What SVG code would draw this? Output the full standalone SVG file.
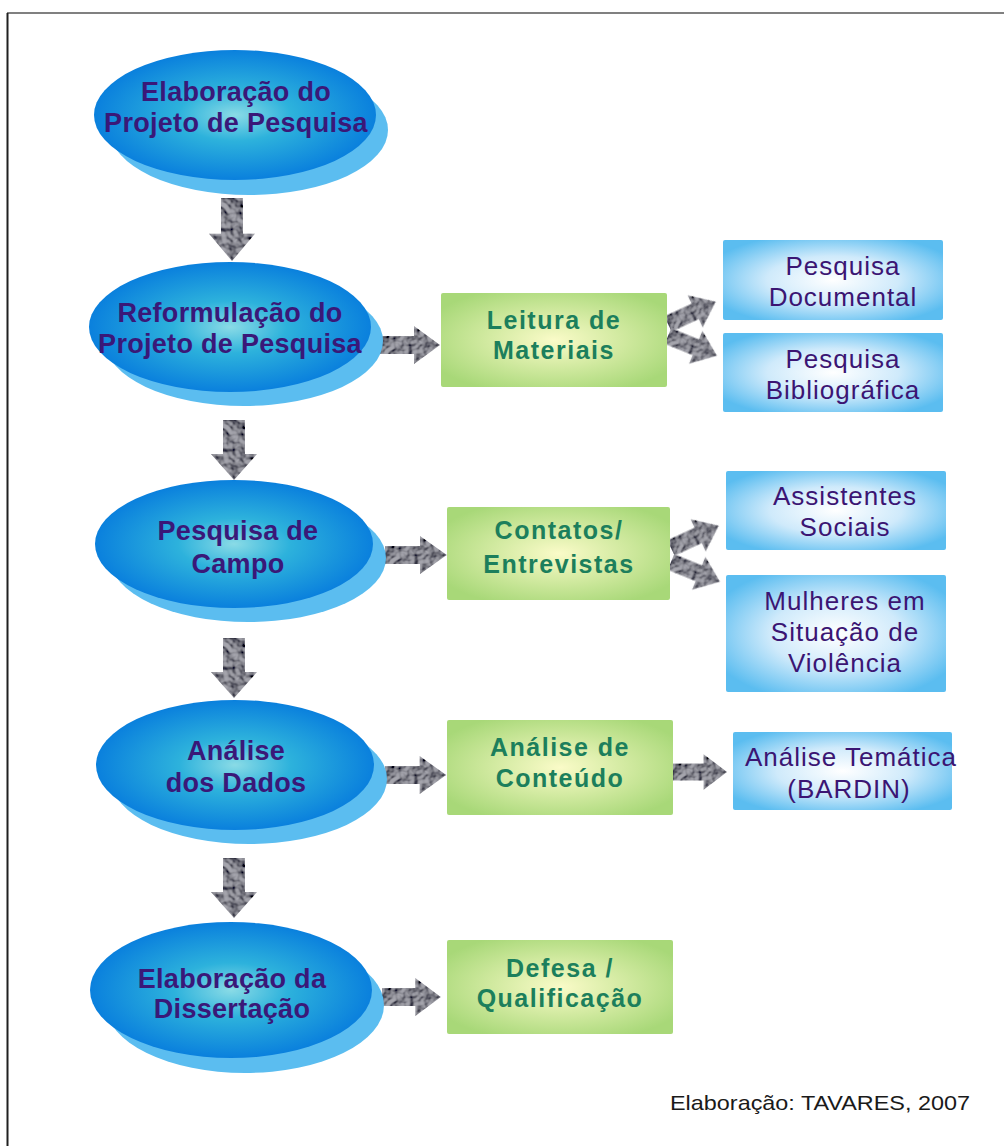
<svg xmlns="http://www.w3.org/2000/svg" width="1004" height="1146" viewBox="0 0 1004 1146">
<style>
.et{font-family:"Liberation Sans",Arial,sans-serif;font-weight:bold;font-size:27px;fill:#3a1878;text-anchor:middle;letter-spacing:0.3px}
.gt{font-family:"Liberation Sans",Arial,sans-serif;font-weight:bold;font-size:25px;fill:#1c7f5c;text-anchor:middle;letter-spacing:1.5px}
.bt{font-family:"Liberation Sans",Arial,sans-serif;font-size:26px;fill:#3b1573;text-anchor:middle;letter-spacing:1px}
.back{fill:#5bbdf0}
.front{fill:url(#gE)}
.gbox{fill:url(#gG)}
.bbox{fill:url(#gB)}
.arr{fill:#5a5a66;filter:url(#rock)}
</style>
<defs>
<radialGradient id="gE" cx="0.5" cy="0.5" r="0.5">
<stop offset="0" stop-color="#8adbe6"/>
<stop offset="0.4" stop-color="#2db2dc"/>
<stop offset="1" stop-color="#0a80dd"/>
</radialGradient>
<radialGradient id="gG" cx="0.5" cy="0.5" r="0.6">
<stop offset="0" stop-color="#fafbc8"/>
<stop offset="1" stop-color="#a8d878"/>
</radialGradient>
<radialGradient id="gB" cx="0.5" cy="0.5" r="0.6">
<stop offset="0" stop-color="#ffffff"/>
<stop offset="0.5" stop-color="#cfeafb"/>
<stop offset="1" stop-color="#5bbdf0"/>
</radialGradient>
<filter id="rock" x="-20%" y="-20%" width="140%" height="140%">
<feTurbulence type="fractalNoise" baseFrequency="0.13" numOctaves="2" seed="4" result="n"/>
<feDiffuseLighting in="n" surfaceScale="4" lighting-color="#a8a8ac" result="l">
<feDistantLight azimuth="225" elevation="45"/>
</feDiffuseLighting>
<feComponentTransfer in="l" result="c">
<feFuncR type="linear" slope="1.1" intercept="-0.05"/>
<feFuncG type="linear" slope="1.1" intercept="-0.05"/>
<feFuncB type="linear" slope="1.1" intercept="-0.03"/>
</feComponentTransfer>
<feComposite in="c" in2="SourceAlpha" operator="in"/>
</filter>
<path id="ar" d="M0,-10 L34,-10 L34,-21 L60,0 L34,21 L34,10 L0,10 Z"/>
</defs>

<g id="frame">
<line x1="7" y1="13" x2="1004" y2="13" stroke="#808080" stroke-width="2"/>
<line x1="7.5" y1="13" x2="7.5" y2="1146" stroke="#202020" stroke-width="2"/>
</g>

<g id="connectors">
<use href="#ar" class="arr" transform="translate(232,198) rotate(90) scale(1.05,1.1)"/>
<use href="#ar" class="arr" transform="translate(234,420) rotate(90) scale(1,1.1)"/>
<use href="#ar" class="arr" transform="translate(234,638) rotate(90) scale(1,1.1)"/>
<use href="#ar" class="arr" transform="translate(234,858) rotate(90) scale(1,1.1)"/>
<use href="#ar" class="arr" transform="translate(380,345) scale(1,0.9)"/>
<use href="#ar" class="arr" transform="translate(385,555) scale(1.03,0.9)"/>
<use href="#ar" class="arr" transform="translate(385,775) scale(1.02,0.9)"/>
<use href="#ar" class="arr" transform="translate(382,997) scale(0.98,0.9)"/>
<use href="#ar" class="arr" transform="translate(668,324) rotate(-25) scale(0.88,0.85)"/>
<use href="#ar" class="arr" transform="translate(668,336) rotate(22) scale(0.88,0.85)"/>
<use href="#ar" class="arr" transform="translate(671,548) rotate(-25) scale(0.88,0.85)"/>
<use href="#ar" class="arr" transform="translate(671,562) rotate(22) scale(0.88,0.85)"/>
<use href="#ar" class="arr" transform="translate(673,772) scale(0.9,0.85)"/>
</g>

<g id="n1">
<ellipse class="back" cx="249" cy="130" rx="139" ry="65"/>
<ellipse class="front" cx="235" cy="115" rx="141" ry="65"/>
<text class="et" x="236" y="101">Elaboração do</text>
<text class="et" x="236" y="132">Projeto de Pesquisa</text>
</g>
<g id="n2">
<ellipse class="back" cx="244" cy="341" rx="139" ry="65"/>
<ellipse class="front" cx="230" cy="327" rx="141" ry="65"/>
<text class="et" x="230" y="322">Reformulação do</text>
<text class="et" x="230" y="353">Projeto de Pesquisa</text>
</g>
<g id="n3">
<ellipse class="back" cx="248" cy="558" rx="138" ry="64"/>
<ellipse class="front" cx="234" cy="544" rx="139" ry="64"/>
<text class="et" x="238" y="540">Pesquisa de</text>
<text class="et" x="238" y="573">Campo</text>
</g>
<g id="n4">
<ellipse class="back" cx="249" cy="779" rx="138" ry="65"/>
<ellipse class="front" cx="235" cy="765" rx="139" ry="65"/>
<text class="et" x="236" y="760">Análise</text>
<text class="et" x="236" y="792">dos Dados</text>
</g>
<g id="n5">
<ellipse class="back" cx="245" cy="1005" rx="139" ry="68"/>
<ellipse class="front" cx="231" cy="990" rx="141" ry="68"/>
<text class="et" x="232" y="988">Elaboração da</text>
<text class="et" x="232" y="1018">Dissertação</text>
</g>

<g id="g1">
<rect class="gbox" x="441" y="293" width="226" height="94" rx="2"/>
<text class="gt" x="554" y="329">Leitura de</text>
<text class="gt" x="554" y="359">Materiais</text>
</g>
<g id="g2">
<rect class="gbox" x="447" y="507" width="223" height="93" rx="2"/>
<text class="gt" x="559" y="539">Contatos/</text>
<text class="gt" x="559" y="573">Entrevistas</text>
</g>
<g id="g3">
<rect class="gbox" x="447" y="720" width="226" height="95" rx="2"/>
<text class="gt" x="560" y="756">Análise de</text>
<text class="gt" x="560" y="787">Conteúdo</text>
</g>
<g id="g4">
<rect class="gbox" x="447" y="940" width="226" height="94" rx="2"/>
<text class="gt" x="560" y="977">Defesa /</text>
<text class="gt" x="560" y="1007">Qualificação</text>
</g>

<g id="b1">
<rect class="bbox" x="723" y="240" width="220" height="80" rx="2"/>
<text class="bt" x="843" y="275">Pesquisa</text>
<text class="bt" x="843" y="306">Documental</text>
</g>
<g id="b2">
<rect class="bbox" x="723" y="333" width="220" height="79" rx="2"/>
<text class="bt" x="843" y="368">Pesquisa</text>
<text class="bt" x="843" y="399">Bibliográfica</text>
</g>
<g id="b3">
<rect class="bbox" x="726" y="471" width="220" height="79" rx="2"/>
<text class="bt" x="845" y="505">Assistentes</text>
<text class="bt" x="845" y="536">Sociais</text>
</g>
<g id="b4">
<rect class="bbox" x="726" y="575" width="220" height="117" rx="2"/>
<text class="bt" x="845" y="610">Mulheres em</text>
<text class="bt" x="845" y="641">Situação de</text>
<text class="bt" x="845" y="672">Violência</text>
</g>
<g id="b5">
<rect class="bbox" x="733" y="732" width="219" height="78" rx="2"/>
<text class="bt" x="851" y="766">Análise Temática</text>
<text class="bt" x="849" y="798">(BARDIN)</text>
</g>

<text x="670" y="1110" font-family="'Liberation Sans',Arial,sans-serif" font-size="21" fill="#1a1a1a" textLength="300" lengthAdjust="spacingAndGlyphs">Elaboração: TAVARES, 2007</text>
</svg>
